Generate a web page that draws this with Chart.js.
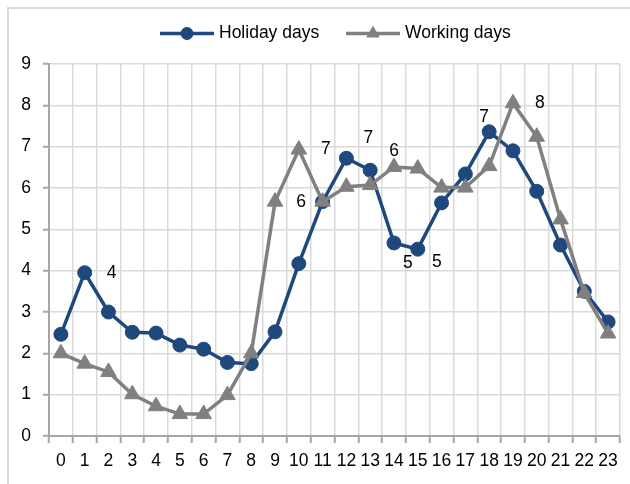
<!DOCTYPE html>
<html><head><meta charset="utf-8">
<script src="https://cdn.jsdelivr.net/npm/chart.js@4.4.0/dist/chart.umd.min.js"></script>
<style>html,body{margin:0;padding:0;background:#fff;overflow:hidden}canvas{display:block}</style>
</head><body>
<canvas id="c" width="630" height="484"></canvas>
<script>
// ---- data ----
const hours = ['0','1','2','3','4','5','6','7','8','9','10','11','12','13','14','15','16','17','18','19','20','21','22','23'];
const seriesNames = ['Holiday days', 'Working days'];
const holidayDays = [2.46,3.95,3.00,2.51,2.49,2.20,2.10,1.78,1.75,2.52,4.17,5.67,6.72,6.43,4.67,4.52,5.64,6.34,7.36,6.90,5.92,4.62,3.50,2.76];
const workingDays = [2.00,1.75,1.55,1.01,0.72,0.53,0.53,0.99,2.00,5.67,6.93,5.67,6.03,6.07,6.51,6.47,6.01,6.01,6.53,8.05,7.24,5.24,3.46,2.48];
const yMin = 0, yMax = 9, yStep = 1;
// points that carry a value label (series index, point index)
const labelledPoints = [[0,1],[1,9],[1,10],[0,12],[0,13],[0,14],[0,15],[0,18],[1,19]];

// ---- style ----
const FONT = "'Liberation Sans','Arimo',Arial,sans-serif";
const FS = 17.5;
const BLUE = '#1F497D', GRAY = '#808080';
const labelOffsets = [[27,0],[26,1],[27,0],[22,-20],[24,-19],[14,20],[19,13],[-5,-15],[27,0]];

const frame = {
  id: 'frame',
  beforeDraw(chart) {
    const ctx = chart.ctx;
    ctx.save();
    ctx.strokeStyle = '#d9d9d9';
    ctx.lineWidth = 2;
    ctx.beginPath();
    ctx.moveTo(8, 484); ctx.lineTo(8, 8); ctx.lineTo(630, 8);
    ctx.stroke();
    ctx.restore();
  }
};

const legendPlugin = {
  id: 'customLegend',
  afterDraw(chart) {
    const ctx = chart.ctx;
    const xs = [160, 346];
    const y = 33.5;
    chart.data.datasets.forEach((ds, k) => {
      const x0 = xs[k];
      ctx.save();
      ctx.strokeStyle = ds.borderColor;
      ctx.lineWidth = 3.5;
      ctx.beginPath(); ctx.moveTo(x0, y); ctx.lineTo(x0 + 54, y); ctx.stroke();
      ctx.fillStyle = ds.backgroundColor;
      ctx.strokeStyle = ds.borderColor;
      ctx.lineWidth = 1;
      Chart.helpers.drawPoint(ctx, {pointStyle: ds.pointStyle, radius: k === 0 ? 6 : 7, rotation: 0, borderWidth: 1}, x0 + 27, y);
      ctx.fillStyle = '#000';
      ctx.font = FS + 'px ' + FONT;
      ctx.textBaseline = 'middle';
      ctx.textAlign = 'left';
      ctx.fillText(ds.label, x0 + 59, y);
      ctx.restore();
    });
  }
};

const valueLabels = {
  id: 'valueLabels',
  afterDatasetsDraw(chart) {
    const ctx = chart.ctx;
    ctx.save();
    ctx.fillStyle = '#000';
    ctx.font = FS + 'px ' + FONT;
    ctx.textAlign = 'center';
    ctx.textBaseline = 'middle';
    labelledPoints.forEach(([s, i], n) => {
      const el = chart.getDatasetMeta(s).data[i];
      const v = chart.data.datasets[s].data[i];
      ctx.fillText(String(Math.round(v)), el.x + labelOffsets[n][0], el.y + labelOffsets[n][1]);
    });
    ctx.restore();
  }
};

new Chart(document.getElementById('c'), {
  type: 'line',
  data: {
    labels: hours,
    datasets: [
      { label: seriesNames[0], data: holidayDays, borderColor: BLUE, backgroundColor: BLUE,
        borderWidth: 3.5, pointStyle: 'circle', pointRadius: 7, pointBorderWidth: 1, tension: 0, order: 1 },
      { label: seriesNames[1], data: workingDays, borderColor: GRAY, backgroundColor: GRAY,
        borderWidth: 3.5, pointStyle: 'triangle', pointRadius: 9, pointBorderWidth: 1, tension: 0, order: 0 }
    ]
  },
  options: {
    responsive: false,
    animation: false,
    layout: { padding: { top: 64, right: 2, left: 0, bottom: 0 } },
    plugins: { legend: { display: false }, tooltip: { enabled: false } },
    scales: {
      x: {
        offset: true,
        grid: { offset: true, color: '#d9d9d9', lineWidth: 1.5, tickColor: '#a6a6a6', tickLength: 7, tickWidth: 2 },
        border: { color: '#a6a6a6', width: 2 },
        ticks: { color: '#000', font: { family: FONT, size: FS }, padding: 8, maxRotation: 0, autoSkip: false },
        afterFit(scale) { scale.height = 48; }
      },
      y: {
        min: yMin, max: yMax,
        grid: { color: '#d9d9d9', lineWidth: 1.5, tickColor: '#a6a6a6', tickLength: 6, tickWidth: 2 },
        border: { color: '#a6a6a6', width: 2 },
        ticks: { stepSize: yStep, color: '#000', font: { family: FONT, size: FS }, padding: 12 },
        afterFit(scale) { scale.width = 49; }
      }
    }
  },
  plugins: [frame, legendPlugin, valueLabels]
});
</script>
</body></html>
